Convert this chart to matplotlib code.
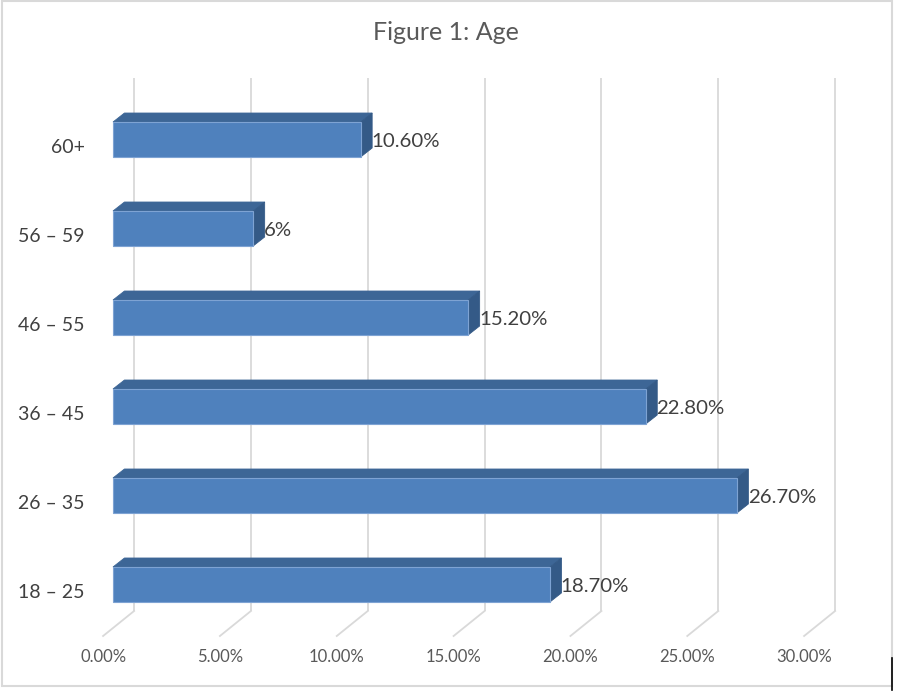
import numpy as np
import matplotlib
matplotlib.use("Agg")
import matplotlib.pyplot as plt
from matplotlib.patches import Polygon, Rectangle
from matplotlib.lines import Line2D


# =========================
# Data
# =========================
categories = ["18 – 25", "26 – 35", "36 – 45", "46 – 55", "56 – 59", "60+"]
values = [18.7, 26.7, 22.8, 15.2, 6.0, 10.6]
value_labels = ["18.70%", "26.70%", "22.80%", "15.20%", "6%", "10.60%"]
tick_values = [0, 5, 10, 15, 20, 25, 30]
tick_labels = ["0.00%", "5.00%", "10.00%", "15.00%", "20.00%", "25.00%", "30.00%"]
title = "Figure 1: Age"


# =========================
# Style
# =========================
FRONT = "#4f81bd"
TOP = "#3d6696"
SIDE = "#345a87"
EDGE = "#7ea3d3"
GRID = "#d9d9d9"
TEXT = "#404040"
AXTEXT = "#595959"
FONT = "Lato"

BAR_H = 0.393          # front face height (category units)
BAR_DX, BAR_DY = 0.49, 0.101     # bar depth offset
FLOOR_DX, FLOOR_DY = 1.327, 0.281  # whole floor depth
BAR_FRONT = 0.32       # bar front plane position within floor depth

plt.rcParams["font.family"] = [FONT, "DejaVu Sans"]

fig = plt.figure(figsize=(8.98, 6.91), dpi=100)
ax = fig.add_axes([103 / 898, 1 - 636 / 691, 733 / 898, (636 - 78) / 691])
ax.set_xlim(-0.428, 30.94)
ax.set_ylim(-0.579, 5.691)
ax.axis("off")

# back wall gridlines and floor slants
back_dx = FLOOR_DX * (1 - BAR_FRONT)
front_dx = FLOOR_DX * BAR_FRONT
floor_back_y = -0.579 + FLOOR_DY
for t, tl in zip(tick_values, tick_labels):
    xb = t + back_dx
    ax.plot([xb, xb], [floor_back_y, 5.691], color=GRID, lw=1.3, zorder=1,
            clip_on=False, solid_capstyle="butt")
    ax.plot([xb, t - front_dx], [floor_back_y, -0.579], color=GRID, lw=1.3,
            zorder=1, clip_on=False)
    ax.text(t - front_dx, -0.81, tl, ha="center", va="center",
            fontsize=12, color=AXTEXT)

# 3D bars
for i, (v, lab) in enumerate(zip(values, value_labels)):
    y0 = i - BAR_H / 2
    y1 = i + BAR_H / 2
    top = Polygon([(0, y1), (v, y1), (v + BAR_DX, y1 + BAR_DY), (BAR_DX, y1 + BAR_DY)],
                  closed=True, facecolor=TOP, edgecolor=TOP, lw=0.6, zorder=3)
    side = Polygon([(v, y0), (v + BAR_DX, y0 + BAR_DY), (v + BAR_DX, y1 + BAR_DY), (v, y1)],
                   closed=True, facecolor=SIDE, edgecolor=SIDE, lw=0.6, zorder=3)
    front = Rectangle((0, y0), v, BAR_H, facecolor=FRONT, edgecolor=EDGE,
                      lw=0.8, zorder=4)
    ax.add_patch(top)
    ax.add_patch(side)
    ax.add_patch(front)
    ax.text(v + BAR_DX - 0.03, i - 0.02, lab, ha="left", va="center",
            fontsize=14.7, color=TEXT, zorder=5)
    ax.text(-1.2, i - 0.09, categories[i], ha="right", va="center",
            fontsize=14, color=TEXT, clip_on=False)

fig.text(446 / 898, 1 - 33 / 691, title, ha="center", va="center",
         fontsize=18, color=AXTEXT)

# chart area border
fig.add_artist(Rectangle((1.5 / 898, 1 - 686 / 691), 890 / 898, 685 / 691,
                         transform=fig.transFigure, fill=False,
                         edgecolor=GRID, lw=1.5))
fig.add_artist(Line2D([891.5 / 898, 891.5 / 898], [1 - 690 / 691, 1 - 658 / 691],
                      transform=fig.transFigure, color="black", lw=1.2))

fig.savefig("out.png", dpi=100)
